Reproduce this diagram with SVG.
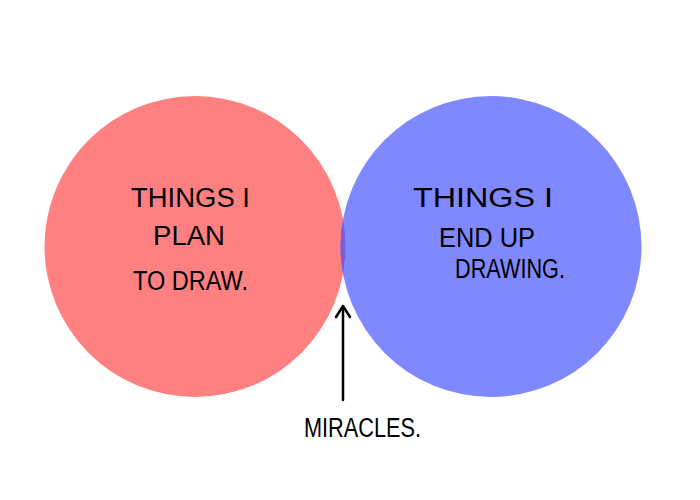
<svg xmlns="http://www.w3.org/2000/svg" width="700" height="500" viewBox="0 0 700 500">
<style>
.t{font-family:"Liberation Sans","DejaVu Sans",sans-serif;font-size:27px;fill:#000;}
</style>
<defs>
<clipPath id="redclip"><circle cx="195" cy="246.5" r="150.5"/></clipPath>
</defs>
<rect width="700" height="500" fill="#fff"/>
<g id="plan">
<circle cx="195" cy="246.5" r="150.5" fill="#ff8080"/>
</g>
<g id="draw">
<circle cx="491" cy="246.5" r="150.5" fill="#8088ff"/>
</g>
<g id="overlap">
<circle cx="491" cy="246.5" r="150.5" fill="#7a5fd0" clip-path="url(#redclip)"/>
</g>
<g id="labels">
<text class="t" x="131" y="207" textLength="119" lengthAdjust="spacingAndGlyphs">THINGS I</text>
<text class="t" x="153" y="245" textLength="72" lengthAdjust="spacingAndGlyphs">PLAN</text>
<text class="t" x="133" y="290" textLength="115" lengthAdjust="spacingAndGlyphs">TO DRAW.</text>
<text class="t" x="413" y="207" textLength="140" lengthAdjust="spacingAndGlyphs">THINGS I</text>
<text class="t" x="439" y="247" textLength="96" lengthAdjust="spacingAndGlyphs">END UP</text>
<text class="t" x="455" y="278" textLength="110" lengthAdjust="spacingAndGlyphs">DRAWING.</text>
<text class="t" x="304" y="437" textLength="117" lengthAdjust="spacingAndGlyphs">MIRACLES.</text>
</g>
<g id="connectors" fill="none" stroke="#000" stroke-width="2.5" stroke-linecap="round" stroke-linejoin="round">
<line x1="343" y1="400" x2="343" y2="307"/>
<polyline points="336,317 343,306 350,317"/>
</g>
</svg>
